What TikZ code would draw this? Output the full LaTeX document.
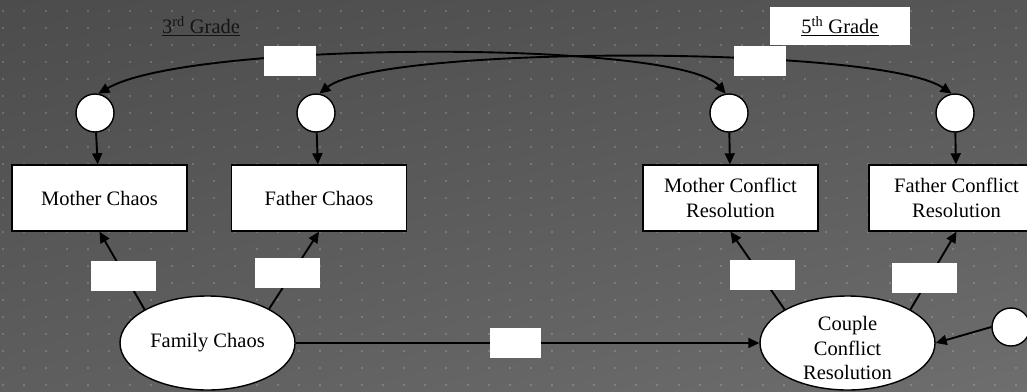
\documentclass[tikz,border=0pt]{standalone}
\usepackage{fontspec}
\setmainfont{Liberation Serif}
\usetikzlibrary{arrows.meta,shapes.geometric,shadings}
\definecolor{bgul}{RGB}{76,76,76}
\definecolor{bgur}{RGB}{86,86,86}
\definecolor{bgll}{RGB}{94,94,94}
\definecolor{bglr}{RGB}{110,110,110}
\definecolor{gradetext}{RGB}{20,20,20}
\begin{document}
\begin{tikzpicture}[x=1pt,y=-1pt,
  every node/.style={font=\fontsize{20.5}{24.5}\selectfont},
  line/.style={line width=1.9pt,draw=black},
  arr/.style={line, -{Triangle[length=11pt,width=10pt]}},
  darr/.style={line, {Triangle[length=11pt,width=10pt]}-{Triangle[length=11pt,width=10pt]}},
  obsbox/.style={draw=black,line width=1.4pt,fill=white,minimum width=175pt,minimum height=66pt,inner sep=0pt,align=center},
  latent/.style={ellipse,draw=black,line width=1.4pt,fill=white,minimum width=175pt,minimum height=94pt,inner sep=0pt,align=center},
  errc/.style={circle,draw=black,line width=1.4pt,fill=white,minimum size=38pt,inner sep=0pt},
  lab/.style={fill=white,inner sep=0pt,minimum height=30pt}
]
\useasboundingbox (0,0) rectangle (1027,391);
\clip (0,0) rectangle (1027,391);
\shade[upper left=bgul,upper right=bgur,lower left=bgll,lower right=bglr]
  (0,0) rectangle (1027,391);
\foreach \i in {0,...,48}{
  \foreach \j in {0,...,22}{
    \fill[white,opacity=0.17] ({3.3+21.1*\i-1},{11+17*\j-1}) rectangle ++(2,2);
  }
}
% nodes
\node[errc] (e1) at (95,113) {};
\node[errc] (e2) at (316,113) {};
\node[errc] (e3) at (729,113) {};
\node[errc] (e4) at (955,113) {};
\node[errc] (e5) at (1011,327) {};
\node[obsbox] (mc) at (99.5,198) {Mother Chaos};
\node[obsbox] (fc) at (319,198) {Father Chaos};
\node[obsbox] (mcr) at (730.5,198) {Mother Conflict\\Resolution};
\node[obsbox] (fcr) at (956.5,198) {Father Conflict\\Resolution};
\node[latent] (fam) at (207.5,343) {Family Chaos};
\node[latent] (ccr) at (847.5,343) {};
\node[align=center] (ccrtext) at (847.5,348) {Couple\\Conflict\\Resolution};
% connectors
\draw[arr] (e1) -- (mc);
\draw[arr] (e2) -- (fc);
\draw[arr] (e3) -- (mcr);
\draw[arr] (e4) -- (fcr);
\draw[arr] (fam.152) -- (mc.south);
\draw[arr] (fam.29) -- (fc.south);
\draw[arr] (ccr.152) -- (mcr.south);
\draw[arr] (ccr.28) -- (fcr.south);
\draw[arr] (fam.east) -- (ccr.west);
\draw[arr] (e5.west) -- (ccr.east);
\draw[darr] (e1.80) .. controls (190,40) and (680,40) .. (e3.100);
\draw[darr] (e2.80) .. controls (380,45) and (880,45) .. (e4.100);
% label boxes
\node[lab,minimum width=65pt] (l1) at (123.5,276) {};
\node[lab,minimum width=65pt] (l2) at (287.5,273) {};
\node[lab,minimum width=65pt] (l3) at (762.5,275) {};
\node[lab,minimum width=65pt] (l4) at (924.5,278) {};
\node[lab,minimum width=51pt] (l5) at (515.5,343) {};
\node[lab,minimum width=52pt] (l6) at (290,61) {};
\node[lab,minimum width=52pt] (l7) at (760,61) {};
\node[lab,minimum width=140pt,minimum height=38pt] (g5box) at (840,26) {};
\node[text=gradetext] (g3) at (201,26) {\underline{3\textsuperscript{rd} Grade}};
\node (g5) at (840,26) {\underline{5\textsuperscript{th} Grade}};
\end{tikzpicture}
\end{document}
